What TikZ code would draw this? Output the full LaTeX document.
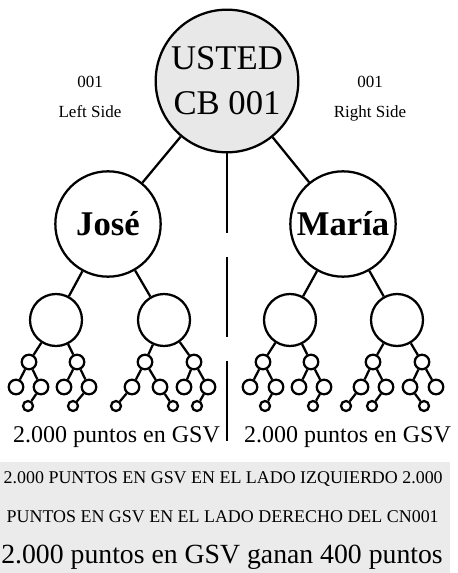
\documentclass[tikz,border=0pt]{standalone}
\usepackage{fontspec}
\setmainfont{Liberation Serif}
\usepackage{tikz}
\definecolor{rootgray}{RGB}{232,232,232}
\definecolor{boxgray}{RGB}{235,235,235}

\begin{document}
\begin{tikzpicture}[x=0.75pt, y=-0.75pt,
		link/.style={line width=1.7pt},
		member/.style={circle, draw, line width=1.7pt, inner sep=0pt},
		topnode/.style={member, fill=rootgray, minimum size=107pt, align=center, font=\fontsize{26}{34}\selectfont},
		sponsor/.style={member, minimum size=79pt, font=\bfseries\fontsize{26}{30}\selectfont},
		midnode/.style={member, minimum size=39pt},
		dotnode/.style={member, minimum size=10.9pt},
		leafdot/.style={member, minimum size=7.5pt},
		sidelabel/.style={inner sep=0pt, anchor=base, font=\fontsize{12.75}{15}\selectfont},
		points/.style={inner sep=0pt, anchor=base, font=\fontsize{18}{22}\selectfont},
		note/.style={inner sep=0pt, anchor=base east, font=\fontsize{13.45}{16}\selectfont},
		bignote/.style={inner sep=0pt, anchor=base east, font=\fontsize{20.8}{25}\selectfont}]
		\useasboundingbox (0,0) rectangle (457,573);

		% root and side labels
		\node (usted) at (227,81) [topnode] {USTED\\CB 001};
		\node (leftnum) at (90,88) [sidelabel] {001};
		\node (leftside) at (90,118) [sidelabel] {Left Side};
		\node (rightnum) at (370,88) [sidelabel] {001};
		\node (rightside) at (370,118) [sidelabel] {Right Side};

		% first level
		\node (jose) at (108,224) [sponsor] {José};
		\node (maria) at (343,224) [sponsor] {María};

		% second level
		\node (jl) at (56,320) [midnode] {};
		\node (jr) at (164,320) [midnode] {};
		\node (ml) at (290,320) [midnode] {};
		\node (mr) at (397,320) [midnode] {};

		% third level
		\node (jll) at (29,362) [dotnode] {};
		\node (jlr) at (77,362) [dotnode] {};
		\node (jrl) at (145,362) [dotnode] {};
		\node (jrr) at (194,362) [dotnode] {};
		\node (mll) at (263,362) [dotnode] {};
		\node (mlr) at (311,362) [dotnode] {};
		\node (mrl) at (373,362) [dotnode] {};
		\node (mrr) at (422,362) [dotnode] {};

		% fourth level
		\node (jlll) at (16,387) [dotnode] {};
		\node (jllr) at (41,387) [dotnode] {};
		\node (jlrl) at (64,387) [dotnode] {};
		\node (jlrr) at (89,387) [dotnode] {};
		\node (jrll) at (132,387) [dotnode] {};
		\node (jrlr) at (160,387) [dotnode] {};
		\node (jrrl) at (184,387) [dotnode] {};
		\node (jrrr) at (208,387) [dotnode] {};
		\node (mlll) at (250,387) [dotnode] {};
		\node (mllr) at (276,387) [dotnode] {};
		\node (mlrl) at (299,387) [dotnode] {};
		\node (mlrr) at (324,387) [dotnode] {};
		\node (mrll) at (361,387) [dotnode] {};
		\node (mrlr) at (386,387) [dotnode] {};
		\node (mrrl) at (410,387) [dotnode] {};
		\node (mrrr) at (436,387) [dotnode] {};

		% fifth level
		\node (jllrd) at (28,406) [leafdot] {};
		\node (jlrrd) at (73,406) [leafdot] {};
		\node (jrlld) at (116,406) [leafdot] {};
		\node (jrlrd) at (173,406) [leafdot] {};
		\node (jrrrd) at (197,406) [leafdot] {};
		\node (mllrd) at (265,406) [leafdot] {};
		\node (mlrrd) at (313,406) [leafdot] {};
		\node (mrlld) at (346,406) [leafdot] {};
		\node (mrlrd) at (372,406) [leafdot] {};
		\node (mrrld) at (424,406) [leafdot] {};

		% connections
		\coordinate (split) at (227,441);
		\draw[link] (usted) -- (jose) (usted) -- (maria);
		\draw[link, dash pattern=on 60pt off 18pt] (usted) -- (split);
		\draw[link] (jose) -- (jl) (jose) -- (jr) (maria) -- (ml) (maria) -- (mr);
		\draw[link] (jl) -- (jll) (jl) -- (jlr) (jr) -- (jrl) (jr) -- (jrr);
		\draw[link] (ml) -- (mll) (ml) -- (mlr) (mr) -- (mrl) (mr) -- (mrr);
		\draw[link] (jll) -- (jlll) (jll) -- (jllr) (jlr) -- (jlrl) (jlr) -- (jlrr);
		\draw[link] (jrl) -- (jrll) (jrl) -- (jrlr) (jrr) -- (jrrl) (jrr) -- (jrrr);
		\draw[link] (mll) -- (mlll) (mll) -- (mllr) (mlr) -- (mlrl) (mlr) -- (mlrr);
		\draw[link] (mrl) -- (mrll) (mrl) -- (mrlr) (mrr) -- (mrrl) (mrr) -- (mrrr);
		\draw[link] (jllr) -- (jllrd) (jlrr) -- (jlrrd) (jrll) -- (jrlld) (jrlr) -- (jrlrd) (jrrr) -- (jrrrd);
		\draw[link] (mllr) -- (mllrd) (mlrr) -- (mlrrd) (mrll) -- (mrlld) (mrlr) -- (mrlrd) (mrrl) -- (mrrld);

		% points under each side
		\node (leftpts) at (116.5,442) [points] {2.000 puntos en GSV};
		\node (rightpts) at (347.5,442) [points] {2.000 puntos en GSV};

		% summary box
		\fill[boxgray] (0,462) rectangle (450,573);
		\node (sumone) at (443,483) [note] {2.000 PUNTOS EN GSV EN EL LADO IZQUIERDO 2.000};
		\node (sumtwo) at (439,522) [note] {PUNTOS EN GSV EN EL LADO DERECHO DEL CN001};
		\node (sumthree) at (443,563) [bignote] {2.000 puntos en GSV ganan 400 puntos};
\end{tikzpicture}
\end{document}
